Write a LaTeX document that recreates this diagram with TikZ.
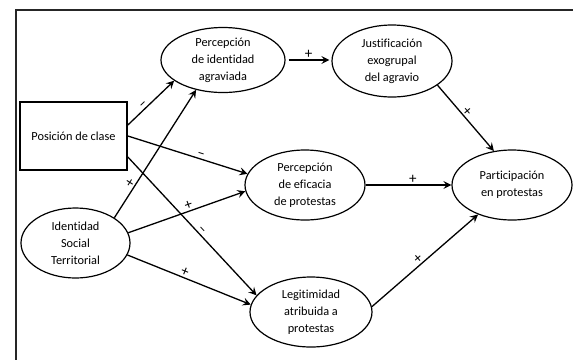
\documentclass[tikz,border=0pt]{standalone}
\usepackage{fontspec}
\setmainfont{Carlito}[Ligatures=NoCommon]
\usetikzlibrary{shapes.geometric,arrows.meta}
\begin{document}
\begin{tikzpicture}[x=1pt,y=-1pt,
  every node/.style={font=\fontsize{12.3}{17}\selectfont, align=center},
  var/.style={draw, ellipse, line width=1.2pt, inner sep=0pt},
  box/.style={draw, rectangle, line width=1.7pt, inner sep=0pt, minimum width=107pt, minimum height=68pt},
  arr/.style={line width=1.3pt, -{Stealth[length=8pt,width=8pt,inset=3pt]}},
  sgn/.style={font=\fontsize{15}{16}\selectfont, sloped, above, inner sep=0.5pt}]
\useasboundingbox (0,0) rectangle (573,360);
\draw[line width=1.5pt, black!85] (573,10) -- (16,10) -- (16,360);

\node[box] (pc) at (73.5,136) {Posición de clase};
\node[var, minimum width=109pt, minimum height=70pt] (ist) at (75.5,243) {Identidad\\Social\\Territorial};
\node[var, minimum width=124pt, minimum height=65pt] (pia) at (223,60) {Percepción\\de identidad\\agraviada};
\node[var, minimum width=120pt, minimum height=72pt] (jus) at (392,61) {Justificación\\exogrupal\\del agravio};
\node[var, minimum width=120pt, minimum height=70pt] (pef) at (305,185) {Percepción\\de eficacia\\de protestas};
\node[var, minimum width=120pt, minimum height=70pt] (par) at (512,185) {Participación\\en protestas};
\node[var, minimum width=122pt, minimum height=70pt] (leg) at (311,312) {Legitimidad\\atribuida a\\protestas};

\draw[arr] ([yshift=11pt]pc.east) -- node[sgn, pos=0.4] {–} (pia.203);
\draw[arr] (pc.east) -- node[sgn, pos=0.6] {–} (pef.169);
\draw[arr] ([yshift=-21pt]pc.east) -- node[sgn, pos=0.55] {–} (leg.163);
\draw[arr] (ist.33) -- node[sgn, pos=0.25] {+} (pia.228);
\draw[arr] (ist.11) -- node[sgn, pos=0.53] {+} (pef.186);
\draw[arr] (ist.347) -- node[sgn, pos=0.45] {+} (leg.173);
\draw[arr, shorten <=3pt, shorten >=2pt] (pia.east) -- node[sgn, pos=0.5] {+} (pia.east -| jus.west);
\draw[arr] (jus.332) -- node[sgn, pos=0.45] {+} (par.118);
\draw[arr] (pef.east) -- node[sgn, pos=0.55] {+} (par.west);
\draw[arr] (leg.5) -- node[sgn, pos=0.47] {+} (par.221);
\end{tikzpicture}
\end{document}
